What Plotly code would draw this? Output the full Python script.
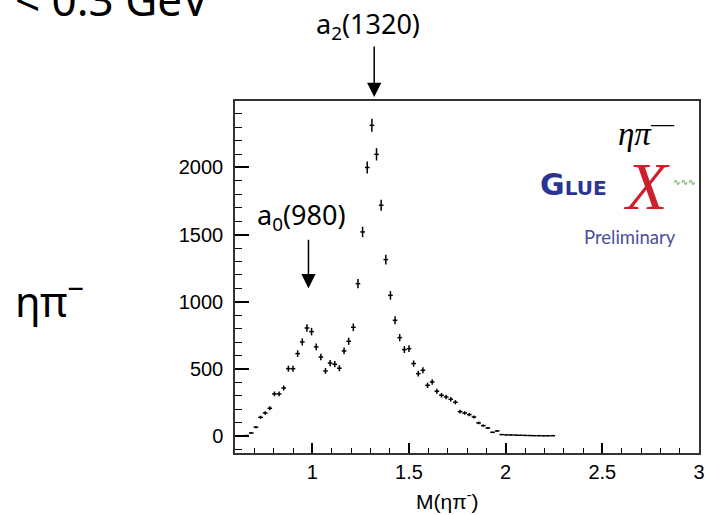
import numpy as np
import plotly.graph_objects as go

# ---- data ----
bin_centers = [0.612, 0.636, 0.660, 0.684, 0.708, 0.732, 0.756, 0.780, 0.804, 0.828,
               0.852, 0.876, 0.900, 0.924, 0.948, 0.972, 0.996, 1.020, 1.044, 1.068,
               1.092, 1.116, 1.140, 1.164, 1.188, 1.212, 1.236, 1.260, 1.284, 1.308,
               1.332, 1.356, 1.380, 1.404, 1.428, 1.452, 1.476, 1.500, 1.524, 1.548,
               1.572, 1.596, 1.620, 1.644, 1.668, 1.692, 1.716, 1.740, 1.764, 1.788,
               1.812, 1.836, 1.860, 1.884, 1.908, 1.932, 1.956, 1.980, 2.004, 2.028,
               2.052, 2.076, 2.100, 2.124, 2.148, 2.172, 2.196, 2.220, 2.244]
counts = [0, 0, 4, 23, 66, 140, 172, 207, 314, 314,
          358, 502, 502, 614, 701, 805, 778, 664, 589, 485,
          544, 535, 505, 634, 706, 810, 1135, 1520, 2000, 2314,
          2098, 1719, 1314, 1048, 862, 733, 644, 651, 540, 465,
          490, 378, 403, 334, 304, 291, 274, 252, 182, 172,
          160, 142, 98, 78, 60, 28, 38, 11, 9, 8,
          7, 6, 5, 4, 3, 3, 2, 2, 3]
bin_half_width = 0.012
x_tick_vals = [1, 1.5, 2, 2.5, 3]
x_tick_text = ["1", "1.5", "2", "2.5", "3"]
y_tick_vals = [0, 500, 1000, 1500, 2000]
y_tick_text = ["0", "500", "1000", "1500", "2000"]

errors = [float(np.sqrt(c)) for c in counts]

# ---- layout geometry (pixels) ----
W, H = 710, 515
L, R, T, B = 235, 705, 101, 453
PW, PH = R - L, B - T


def pxx(xp):
    return (xp - L) / PW


def pxy(yp):
    return (B - yp) / PH


fig = go.Figure()
fig.add_trace(go.Scatter(
    x=bin_centers, y=counts, mode="markers",
    marker=dict(size=1, color="black"),
    error_x=dict(type="constant", value=bin_half_width, thickness=1.5, width=0, color="black"),
    error_y=dict(type="data", array=errors, thickness=1.5, width=0, color="black"),
    showlegend=False, hoverinfo="skip",
))

axis_font = dict(family="Liberation Sans, Arial", size=20, color="black")
fig.update_layout(
    width=W, height=H,
    margin=dict(l=L, r=W - R, t=T, b=H - B),
    paper_bgcolor="white", plot_bgcolor="white",
    xaxis=dict(range=[0.6, 3.0], tickvals=x_tick_vals, ticktext=x_tick_text,
               ticks="inside", ticklen=10, tickwidth=1.5, tickcolor="black",
               minor=dict(ticks="inside", ticklen=5, dtick=0.1, tick0=0, tickwidth=1.2, tickcolor="black"),
               showline=True, mirror=True, linecolor="#333", linewidth=1.5,
               showgrid=False, zeroline=False, tickfont=axis_font, ticklabelstandoff=0),
    yaxis=dict(range=[-126, 2495], tickvals=y_tick_vals, ticktext=y_tick_text,
               ticks="inside", ticklen=14, tickwidth=1.5, tickcolor="black",
               minor=dict(ticks="inside", ticklen=7, dtick=100, tick0=0, tickwidth=1.2, tickcolor="black"),
               showline=True, mirror=True, linecolor="#333", linewidth=1.5,
               showgrid=False, zeroline=False, tickfont=axis_font, ticklabelstandoff=6),
)

slide_font = "Noto Sans, Open Sans, sans-serif"
ann = []
# axis title
ann.append(dict(text="M(ηπ<sup>-</sup>)", xref="paper", yref="paper", x=pxx(450), y=pxy(500),
                xanchor="center", yanchor="middle", showarrow=False,
                font=dict(family="Liberation Sans, Arial", size=21, color="black")))
# cut-off text at top-left
ann.append(dict(text="< 0.3 GeV<sup>2</sup>", xref="paper", yref="paper", x=pxx(10), y=pxy(-3),
                xanchor="left", yanchor="middle", showarrow=False,
                font=dict(family=slide_font, size=44, color="black")))
# left label
ann.append(dict(text="ηπ<sup>−</sup>", xref="paper", yref="paper", x=pxx(47), y=pxy(298),
                xanchor="center", yanchor="middle", showarrow=False,
                font=dict(family=slide_font, size=42, color="black")))
# resonance labels
ann.append(dict(text="a<sub>2</sub>(1320)", xref="paper", yref="paper", x=pxx(370), y=pxy(25),
                xanchor="center", yanchor="middle", showarrow=False,
                font=dict(family=slide_font, size=27, color="black")))
ann.append(dict(text="a<sub>0</sub>(980)", xref="paper", yref="paper", x=pxx(302), y=pxy(216),
                xanchor="center", yanchor="middle", showarrow=False,
                font=dict(family=slide_font, size=27, color="black")))
# arrows
ann.append(dict(text="", x=1.32, xref="x", y=pxy(97), yref="paper", ax=0, ay=-52,
                showarrow=True, arrowhead=2, arrowsize=1.9, arrowwidth=1.5, arrowcolor="black"))
ann.append(dict(text="", x=0.98, xref="x", y=1100, yref="y", ax=0, ay=-50,
                showarrow=True, arrowhead=2, arrowsize=1.9, arrowwidth=1.5, arrowcolor="black"))
# in-plot label
ann.append(dict(text="<i>ηπ</i><sup>—</sup>", xref="paper", yref="paper", x=pxx(652), y=pxy(131),
                xanchor="center", yanchor="middle", showarrow=False,
                font=dict(family="Liberation Serif, Times New Roman, serif", size=33, color="black")))
# GlueX logo (text approximation)
ann.append(dict(text="<b><span style='font-size:30px'>G</span>LUE</b>", xref="paper", yref="paper",
                x=pxx(542), y=pxy(184), xanchor="left", yanchor="middle", showarrow=False,
                font=dict(family="DejaVu Sans, Arial", size=20, color="#2b3492")))
ann.append(dict(text="<i>X</i>", xref="paper", yref="paper", x=pxx(652), y=pxy(186),
                xanchor="center", yanchor="middle", showarrow=False,
                font=dict(family="Liberation Serif, serif", size=68, color="#cf1f2a")))
ann.append(dict(text="∿∿∿", xref="paper", yref="paper", x=pxx(690), y=pxy(182),
                xanchor="center", yanchor="middle", showarrow=False,
                font=dict(family="DejaVu Sans", size=9, color="#3a9b3a")))
ann.append(dict(text="Preliminary", xref="paper", yref="paper", x=pxx(635), y=pxy(237),
                xanchor="center", yanchor="middle", showarrow=False,
                font=dict(family="Lato, Noto Sans", size=18.5, color="#4a4f9e")))

fig.update_layout(annotations=ann)
fig.write_html("out.html")
